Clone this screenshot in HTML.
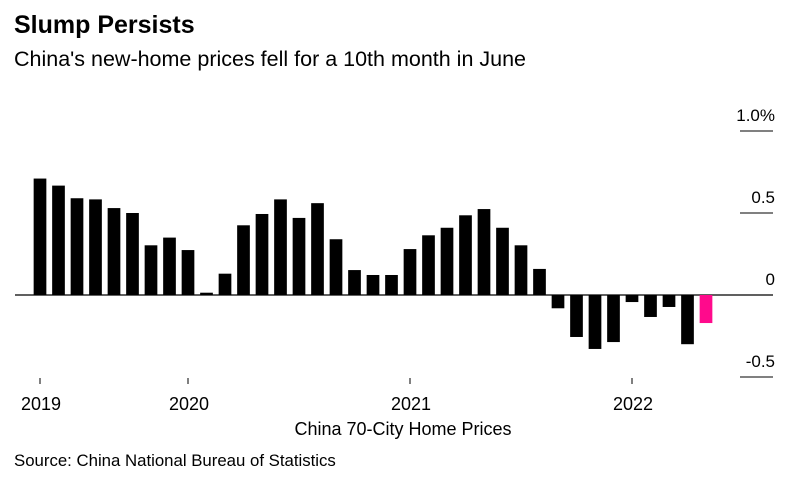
<!DOCTYPE html>
<html><head><meta charset="utf-8"><style>
body{margin:0;background:#fff;font-family:"Liberation Sans",Arial,sans-serif;}
#c{position:relative;width:811px;height:484px;overflow:hidden}
</style></head><body>
<div id="c">
<svg width="811" height="484" xmlns="http://www.w3.org/2000/svg">
<text x="14" y="33" font-size="25" font-weight="bold" fill="#000">Slump Persists</text>
<text x="14" y="66" font-size="21.5" fill="#000">China's new-home prices fell for a 10th month in June</text>
<g id="grid"></g><g id="bars"></g><g id="xaxis"></g>
<text x="403" y="435" font-size="18" text-anchor="middle" fill="#000">China 70-City Home Prices</text>
<text x="14" y="466" font-size="16.8" fill="#000">Source: China National Bureau of Statistics</text>
</svg>
</div>
<script>
const values=[0.71,0.667,0.59,0.583,0.53,0.5,0.303,0.35,0.274,0.014,0.13,0.425,0.494,0.583,0.47,0.56,0.34,0.152,0.122,0.122,0.28,0.364,0.41,0.486,0.524,0.41,0.303,0.159,-0.081,-0.256,-0.329,-0.287,-0.043,-0.134,-0.073,-0.30,-0.171];
const yTicks=[1.0,0.5,0,-0.5];
const yTickLabels=["1.0%","0.5","0","-0.5"];
const xTickIndex=[0,8,20,32];
const xTickLabels=["2019","2020","2021","2022"];
const NS="http://www.w3.org/2000/svg";
const x0=40,pitch=18.5,bw=12.7;
function xs(i){return x0+i*pitch;}
function ys(v){return 295-v*164;}
const grid=document.getElementById('grid'),bars=document.getElementById('bars'),xa=document.getElementById('xaxis');
function mk(tag,attrs,parent){const e=document.createElementNS(NS,tag);for(const k in attrs)e.setAttribute(k,attrs[k]);parent.appendChild(e);return e;}
yTicks.forEach((v,i)=>{
  const y=ys(v);
  if(v!==0){const l=mk('line',{x1:740,x2:773,y1:y,y2:y,stroke:'#000','stroke-width':1},grid);
  
  }
  const t=mk('text',{x:775,y:y-10,'font-size':17,'text-anchor':'end',fill:'#000'},grid);
  t.textContent=yTickLabels[i];
  
  
});
values.forEach((v,i)=>{
  const y=Math.min(ys(v),ys(0)),h=Math.abs(ys(v)-ys(0));
  const r=mk('rect',{x:xs(i)-bw/2,y:y,width:bw,height:Math.max(h,1),fill:i===values.length-1?'#ff0a8c':'#000'},bars);
  
  
});
const z=mk('line',{x1:15,x2:773,y1:ys(0),y2:ys(0),stroke:'#000','stroke-width':1.2},grid);


xTickIndex.forEach((idx,i)=>{
  const x=xs(idx);
  const l=mk('line',{x1:x,x2:x,y1:378,y2:384,stroke:'#000','stroke-width':1},xa);
  
  
  const t=mk('text',{x:x+1,y:410,'font-size':18,'text-anchor':'middle',fill:'#000'},xa);
  t.textContent=xTickLabels[i];
  
  
});
</script>
</body></html>
